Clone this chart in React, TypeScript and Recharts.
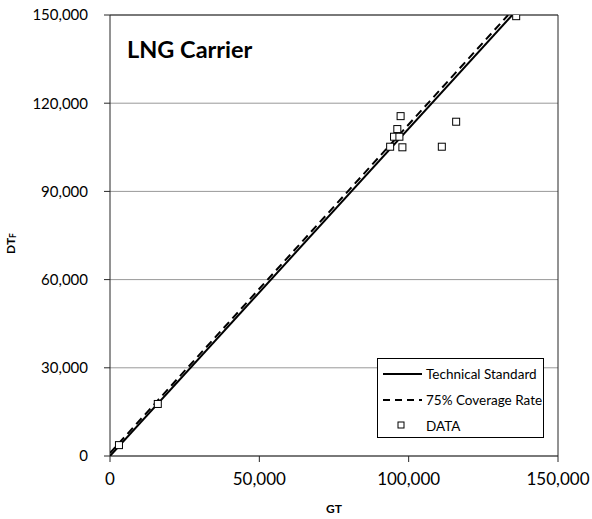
import React from 'react';
import { ScatterChart, Scatter, XAxis, YAxis, CartesianGrid, ReferenceLine } from 'recharts';

const gtValues = [3000, 16000, 93800, 95100, 96900, 96200, 97300, 97900, 111100, 115900, 136000];
const dtValues = [3700, 17700, 105200, 108600, 108600, 111200, 115600, 105000, 105200, 113700, 149600];
const techStandardGT = [0, 134700];
const techStandardDT = [0, 150000];
const coverageGT = [0, 133300];
const coverageDT = [1000, 150000];
const xTicks = [0, 50000, 100000, 150000];
const yTicks = [0, 30000, 60000, 90000, 120000, 150000];

const dataPoints = gtValues.map((x, i) => ({ x, y: dtValues[i] }));
const techLine = techStandardGT.map((x, i) => ({ x, y: techStandardDT[i] }));
const covLine = coverageGT.map((x, i) => ({ x, y: coverageDT[i] }));

const FONT = 'Lato, "Noto Sans", sans-serif';
const fmt = (v: number) => v.toLocaleString('en-US');

const Square = (props: any) => {
  const { cx, cy } = props;
  if (cx == null || cy == null) return <g />;
  return <rect x={cx - 3.5} y={cy - 3.5} width={7} height={7} fill="#fff" stroke="#000" strokeWidth={1} />;
};
const NoShape = () => <g />;

const LegendBox = () => (
  <div style={{ position: 'absolute', left: 377, top: 358, width: 167, height: 80, border: '1px solid #000', background: '#fff', boxSizing: 'border-box' }}>
    <svg width={165} height={78} style={{ display: 'block' }}>
      <line x1={5} x2={44} y1={15} y2={15} stroke="#000" strokeWidth={2} />
      <text x={48} y={19.5} fontFamily={FONT} fontSize={13.5}>Technical Standard</text>
      <line x1={5} x2={44} y1={41} y2={41} stroke="#000" strokeWidth={2} strokeDasharray="7 5" />
      <text x={48} y={45.5} fontFamily={FONT} fontSize={13.5}>75% Coverage Rate</text>
      <rect x={20} y={63} width={6} height={6} fill="#fff" stroke="#000" />
      <text x={48} y={71.5} fontFamily={FONT} fontSize={13.5}>DATA</text>
    </svg>
  </div>
);

const YLabel = (props: any) => {
  const { viewBox } = props;
  const cx = 12;
  const cy = viewBox ? viewBox.y + viewBox.height / 2 + 8 : 243;
  return (
    <text x={cx} y={cy} transform={`rotate(-90 ${cx} ${cy})`} textAnchor="middle" fontFamily={FONT} fontSize={12} fontWeight="bold" dominantBaseline="middle">
      DT<tspan fontSize={8.5} dy={2}>F</tspan>
    </text>
  );
};

export default function App() {
  return (
    <div style={{ position: 'absolute', left: 0, top: 0, width: 592, height: 519, background: '#fff' }}>
      <ScatterChart width={592} height={519} margin={{ top: 15, right: 34, bottom: 0, left: 0 }}>
        <CartesianGrid vertical={false} stroke="#999" strokeWidth={1} />
        <XAxis
          type="number"
          dataKey="x"
          domain={[0, 150000]}
          ticks={xTicks}
          tickFormatter={fmt}
          height={63}
          tickSize={6}
          tickMargin={11}
          stroke="#262626"
          tick={{ fill: '#000', fontSize: 17, fontFamily: FONT }}
          label={{ value: 'GT', position: 'insideBottom', offset: 6, fontSize: 12, fontWeight: 'bold', fontFamily: FONT, fill: '#000' }}
          allowDataOverflow
        />
        <YAxis
          type="number"
          dataKey="y"
          domain={[0, 150000]}
          ticks={yTicks}
          tickFormatter={fmt}
          width={110}
          tickSize={6}
          tickMargin={16}
          stroke="#262626"
          tick={{ fill: '#000', fontSize: 15, fontFamily: FONT }}
          label={<YLabel />}
          allowDataOverflow
        />
        <ReferenceLine y={150000} stroke="#262626" strokeWidth={1} />
        <ReferenceLine x={150000} stroke="#262626" strokeWidth={1} />
        <Scatter data={techLine} line={{ stroke: '#000', strokeWidth: 2 }} shape={NoShape} isAnimationActive={false} legendType="none" />
        <Scatter data={covLine} line={{ stroke: '#000', strokeWidth: 2, strokeDasharray: '8 5' }} shape={NoShape} isAnimationActive={false} legendType="none" />
        <Scatter data={dataPoints} shape={Square} isAnimationActive={false} legendType="none" />
        <text x={127} y={58} fontFamily={FONT} fontSize={23.5} fontWeight="bold" fill="#000">LNG Carrier</text>
      </ScatterChart>
      <LegendBox />
    </div>
  );
}
